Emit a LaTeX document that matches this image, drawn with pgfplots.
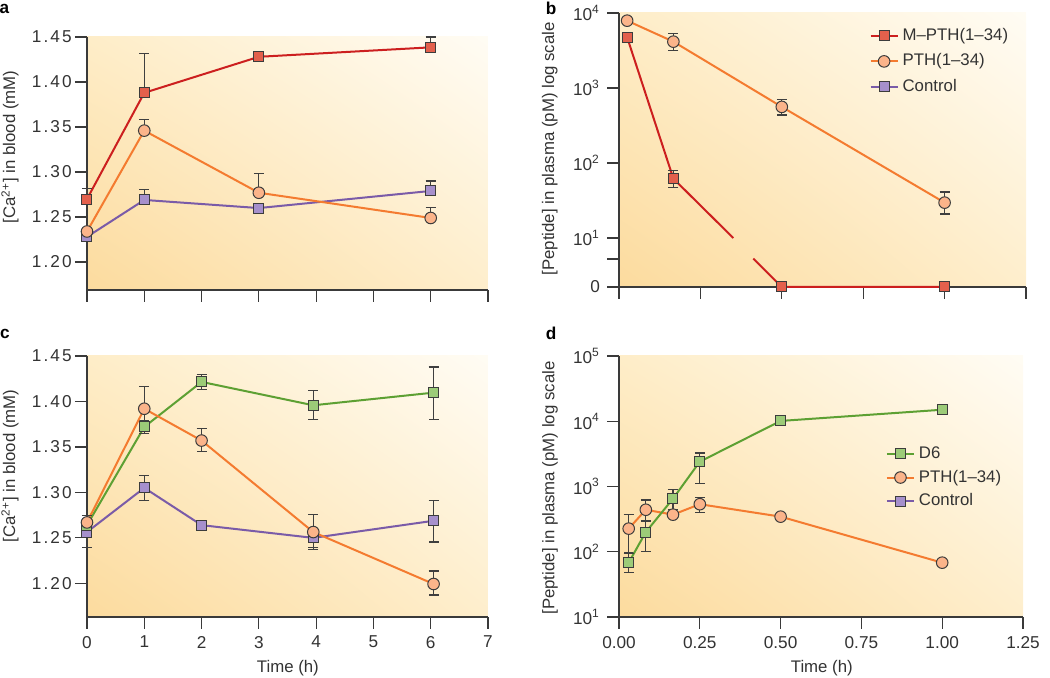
\documentclass[border=0pt]{standalone}
\usepackage{pgfplots}
\pgfplotsset{compat=1.18}
\usetikzlibrary{shadings}
\usepackage{fontspec}
\setmainfont{Liberation Sans}
\definecolor{txt}{HTML}{333333}
\definecolor{axc}{HTML}{3A3A3A}
\definecolor{errc}{HTML}{3F3F3F}
\definecolor{mkedge}{HTML}{3C3C3C}
\definecolor{redL}{HTML}{CC1F1F}
\definecolor{redF}{HTML}{E3604C}
\definecolor{oraL}{HTML}{F47B30}
\definecolor{oraF}{HTML}{FBB48A}
\definecolor{purL}{HTML}{7A5BA8}
\definecolor{purF}{HTML}{A690CC}
\definecolor{grnL}{HTML}{5DA033}
\definecolor{grnF}{HTML}{9CCB78}
\definecolor{bgLL}{HTML}{FCDB9E}
\definecolor{bgUL}{HTML}{FEEDC8}
\definecolor{bgLR}{HTML}{FEEECC}
\definecolor{bgUR}{HTML}{FFFCF4}
\pgfplotsset{
  base/.style={scale only axis, clip=false, anchor=south west,
    axis lines=left, axis line style={-, line width=0.6pt, color=axc},
    tick style={line width=0.6pt, color=axc}, tick align=outside,
    major tick length=6pt, minor tick num=0,
    ticklabel style={color=txt, font=\fontsize{8.6}{10}\selectfont},
    label style={color=txt, font=\fontsize{8.4}{10}\selectfont},
    axis background/.style={shade, lower left=bgLL, upper left=bgUL, lower right=bgLR, upper right=bgUR},
    /pgf/number format/assume math mode=true,
    legend cell align=left,
    legend image code/.code={\draw[mark repeat=2,mark phase=2] plot coordinates {(0pt,0pt)(6.75pt,0pt)(13.5pt,0pt)};},
  },
  redS/.style={color=redL, line width=1pt, mark=square*, mark size=2.5pt, mark options={fill=redF, draw=mkedge, line width=0.5pt, solid}},
  oraS/.style={color=oraL, line width=1pt, mark=*, mark size=2.9pt, mark options={fill=oraF, draw=mkedge, line width=0.5pt, solid}},
  purS/.style={color=purL, line width=1pt, mark=square*, mark size=2.5pt, mark options={fill=purF, draw=mkedge, line width=0.5pt, solid}},
  grnS/.style={color=grnL, line width=1pt, mark=square*, mark size=2.5pt, mark options={fill=grnF, draw=mkedge, line width=0.5pt, solid}},
  errP/.style={error bars/.cd, y dir=plus, y explicit, error bar style={line width=0.6pt, color=errc}, error mark options={rotate=90, mark size=2.5pt, line width=0.6pt, color=errc}, /pgfplots/.cd},
  errB/.style={error bars/.cd, y dir=both, y explicit, error bar style={line width=0.6pt, color=errc}, error mark options={rotate=90, mark size=2.5pt, line width=0.6pt, color=errc}, /pgfplots/.cd},
  caY/.style={ytick={1.20,1.25,1.30,1.35,1.40,1.45},
    yticklabels={1.20,1.25,1.30,1.35,1.40,1.45},
    yticklabel style={font=\fontsize{8.6}{10}\selectfont\addfontfeature{LetterSpace=12}, inner sep=1.5pt}},
}
\begin{document}
\begin{tikzpicture}[font=\fontsize{8.4}{10}\selectfont, color=txt]
\useasboundingbox (0,0) rectangle (525pt,339pt);

% ---------------- panel a
\begin{axis}[base, caY, at={(43.5pt,194pt)}, width=200.5pt, height=126.5pt,
  xmin=0, xmax=7, ymin=1.169, ymax=1.45,
  xtick={0,1,2,3,4,5,6,7}, xticklabels={{},{},{},{},{},{},{},{}},
]
\addplot[purS, errP] coordinates {(0,1.228) +- (0,0) (1,1.269) +- (0,0.0117) (3,1.260) +- (0,0) (6,1.279) +- (0,0.011)};
\addplot[oraS, errP] coordinates {(0,1.234) +- (0,0) (1,1.346) +- (0,0.0125) (3,1.277) +- (0,0.0215) (6,1.249) +- (0,0.012)};
\addplot[redS, errP] coordinates {(0,1.270) +- (0,0.0115) (1,1.388) +- (0,0.044) (3,1.428) +- (0,0) (6,1.4385) +- (0,0.0115)};
\node[rotate=90, anchor=center, text=txt, font=\fontsize{8.4}{10}\selectfont] at (axis description cs:-0.192,0.565) {[Ca\textsuperscript{2+}] in blood (mM)};
\end{axis}

% ---------------- panel b
\begin{axis}[base, ymode=log, at={(309.5pt,195.5pt)}, width=203.5pt, height=137pt,
  xmin=0, xmax=1.25, ymin=2.22, ymax=10000,
  xtick={0,0.25,0.5,0.75,1,1.25}, xticklabels={{},{},{},{},{},{}},
  ytick={2.22,5.25,10,100,1000,10000},
  yticklabels={0,{},10\textsuperscript{1},10\textsuperscript{2},10\textsuperscript{3},10\textsuperscript{4}},
  yminorticks=false,
  ylabel={[Peptide] in plasma (pM) log scale},
  ylabel style={at={(axis description cs:-0.170,0.504)}, anchor=center},
  legend style={draw=none, fill=none, at={(0.60,0.975)}, anchor=north west, row sep=1.2pt,
    /tikz/every even column/.style={column sep=3pt}, font=\fontsize{8.4}{10}\selectfont, text=txt},
]
\addlegendimage{redS}\addlegendentry{M–PTH(1–34)}
\addlegendimage{oraS}\addlegendentry{PTH(1–34)}
\addlegendimage{purS}\addlegendentry{Control}
\addplot[forget plot, oraS, errB] coordinates {(0.025,7900) +=(0,0) -=(0,0) (0.167,4150) +=(0,1200) -=(0,1000) (0.5,560) +=(0,140) -=(0,125) (1.0,29.6) +=(0,11.5) -=(0,8.7)};
\addplot[forget plot, redS, no marks] coordinates {(0.025,4740) (0.167,61.8) (0.351,10)};
\addplot[forget plot, redS, no marks] coordinates {(0.4125,5.3) (0.5,2.22) (1.0,2.22)};
\addplot[forget plot, redS, only marks, errB] coordinates {(0.025,4740) +=(0,0) -=(0,0) (0.167,61.8) +=(0,18) -=(0,14.5) (0.5,2.22) +=(0,0) -=(0,0) (1.0,2.22) +=(0,0) -=(0,0)};
\end{axis}

% ---------------- panel c
\begin{axis}[base, caY, at={(43.5pt,30.5pt)}, width=200.5pt, height=130.5pt,
  xmin=0, xmax=7, ymin=1.163, ymax=1.45,
  xtick={0,1,2,3,4,5,6,7},
  xlabel={Time (h)},
  xlabel style={at={(axis description cs:0.501,-0.195)}, anchor=center},
]
\addplot[purS, errB] coordinates {(0,1.2564) +=(0,0.015) -=(0,0.017) (1,1.305) +=(0,0.0132) -=(0,0.0139) (2,1.264) +=(0,0.003) -=(0,0.003) (3.95,1.250) +=(0,0.004) -=(0,0.011) (6.05,1.2688) +=(0,0.022) -=(0,0.0234)};
\addplot[grnS, errB] coordinates {(0,1.264) +=(0,0.004) -=(0,0.004) (1,1.372) +=(0,0.007) -=(0,0.007) (2,1.4215) +=(0,0.008) -=(0,0.008) (3.95,1.3958) +=(0,0.016) -=(0,0.0153) (6.05,1.4097) +=(0,0.0283) -=(0,0.0292)};
\addplot[oraS, errB] coordinates {(0,1.267) +=(0,0.008) -=(0,0.01) (1,1.392) +=(0,0.0247) -=(0,0.0247) (2,1.357) +=(0,0.0136) -=(0,0.012) (3.95,1.2564) +=(0,0.0194) -=(0,0.0194) (6.05,1.1993) +=(0,0.0143) -=(0,0.0121)};
\node[rotate=90, anchor=center, text=txt, font=\fontsize{8.4}{10}\selectfont] at (axis description cs:-0.192,0.579) {[Ca\textsuperscript{2+}] in blood (mM)};
\end{axis}

% ---------------- panel d
\begin{axis}[base, ymode=log, at={(309.5pt,30.5pt)}, width=202pt, height=130.5pt,
  xmin=0, xmax=1.25, ymin=10, ymax=100000,
  xtick={0,0.25,0.5,0.75,1,1.25},
  xticklabel style={/pgf/number format/.cd, fixed, fixed zerofill, precision=2},
  ytick={10,100,1000,10000,100000},
  yticklabels={10\textsuperscript{1},10\textsuperscript{2},10\textsuperscript{3},10\textsuperscript{4},10\textsuperscript{5}},
  yminorticks=false,
  ylabel={[Peptide] in plasma (pM) log scale},
  ylabel style={at={(axis description cs:-0.171,0.494)}, anchor=center},
  xlabel={Time (h)},
  xlabel style={at={(axis description cs:0.502,-0.195)}, anchor=center},
  legend style={draw=none, fill=none, at={(0.645,0.685)}, anchor=north west, row sep=0.3pt,
    /tikz/every even column/.style={column sep=3pt}, font=\fontsize{8.4}{10}\selectfont, text=txt},
]
\addlegendimage{grnS}\addlegendentry{D6}
\addlegendimage{oraS}\addlegendentry{PTH(1–34)}
\addlegendimage{purS}\addlegendentry{Control}
\addplot[forget plot, oraS, errB] coordinates {(0.03,226) +=(0,150) -=(0,130) (0.083,440) +=(0,180) -=(0,150) (0.167,370) +=(0,0) -=(0,0) (0.25,535) +=(0,135) -=(0,135) (0.5,345) +=(0,0) -=(0,0) (1.0,68) +=(0,0) -=(0,0)};
\addplot[forget plot, grnS, errB] coordinates {(0.03,68) +=(0,25) -=(0,20) (0.083,200) +=(0,100) -=(0,100) (0.167,650) +=(0,250) -=(0,200) (0.25,2400) +=(0,850) -=(0,1300) (0.5,10100) +=(0,0) -=(0,0) (1.0,15000) +=(0,0) -=(0,0)};
\end{axis}

\node[font=\bfseries\fontsize{8.6}{10}\selectfont, text=black] at (2.2pt,334.5pt) {a};
\node[font=\bfseries\fontsize{8.6}{10}\selectfont, text=black] at (275.5pt,335pt) {b};
\node[font=\bfseries\fontsize{8.6}{10}\selectfont, text=black] at (2.5pt,172pt) {c};
\node[font=\bfseries\fontsize{8.6}{10}\selectfont, text=black] at (275.5pt,172.5pt) {d};
\end{tikzpicture}
\end{document}
